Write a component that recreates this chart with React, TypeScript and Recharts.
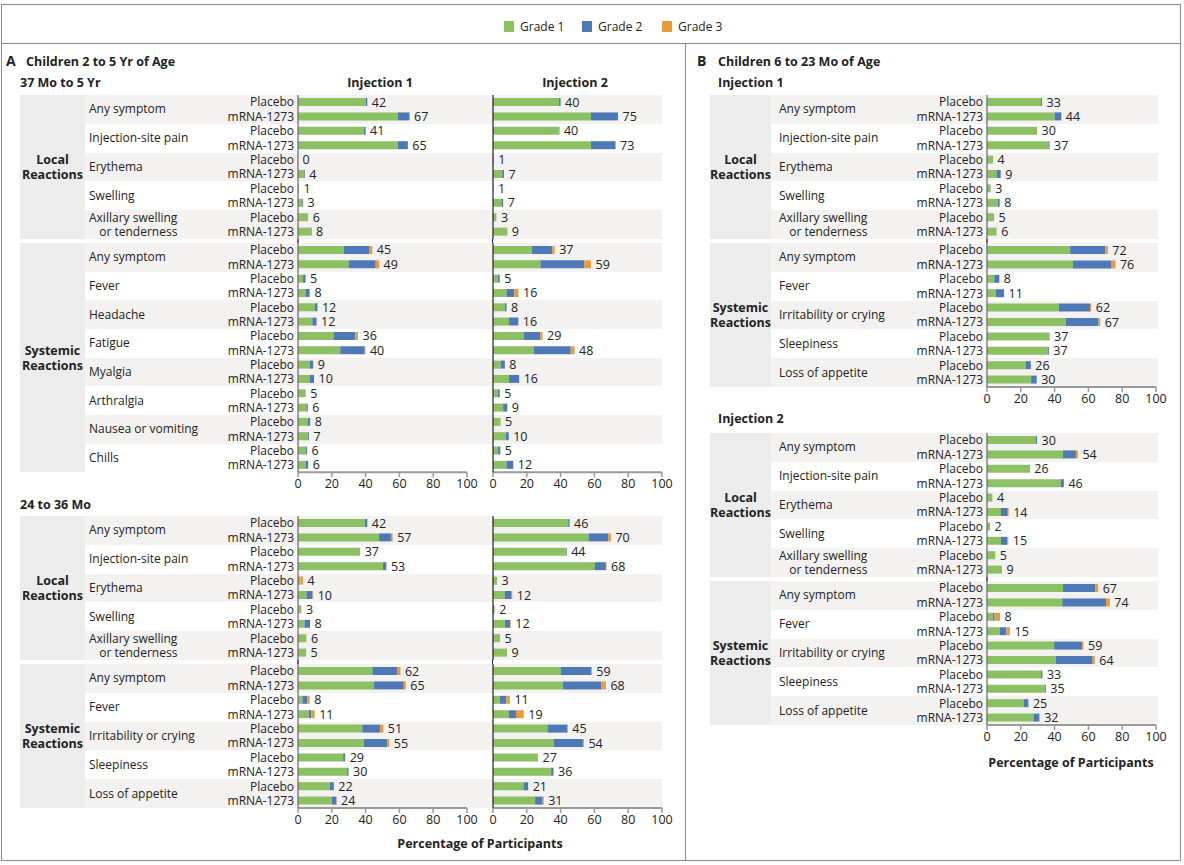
import React from "react";
import { BarChart, Bar, XAxis, YAxis, LabelList } from "recharts";

type G = [number, number, number];

const GREEN = "#8dc063";
const BLUE = "#4f79b6";
const ORANGE = "#e99a3d";
const STRIPE = "#f3f2f0";
const LABEL_COL = "#ececec";
const PLOT_W = 169;
const PAD = 6;

const localSymptoms = ["Any symptom", "Injection-site pain", "Erythema", "Swelling", "Axillary swelling|or tenderness"];
const olderSystemic = ["Any symptom", "Fever", "Headache", "Fatigue", "Myalgia", "Arthralgia", "Nausea or vomiting", "Chills"];
const youngerSystemic = ["Any symptom", "Fever", "Irritability or crying", "Sleepiness", "Loss of appetite"];
const xTicks = [0, 20, 40, 60, 80, 100];
const legendItems = ["Grade 1", "Grade 2", "Grade 3"];

// grades per bar: [grade 1, grade 2, grade 3], placebo then mRNA-1273 for each symptom
// 37 Mo to 5 Yr
const a37LocalDose1: G[] = [[40, 1, 0], [59, 7, 0], [39, 1, 0], [59, 6, 0], [0, 0, 0], [3.5, 0.5, 0], [0.6, 0, 0], [2.5, 0.5, 0], [6, 0, 0], [7.5, 0.5, 0]];
const a37LocalDose1Totals = [42, 67, 41, 65, 0, 4, 1, 3, 6, 8];
const a37LocalDose2: G[] = [[39, 1, 0], [58, 16, 0], [39, 0.3, 0], [58, 14.5, 0], [0.5, 0, 0], [5.5, 1, 0], [0.3, 0, 0], [5, 1, 0], [2, 0, 0], [8.5, 0, 0]];
const a37LocalDose2Totals = [40, 75, 40, 73, 1, 7, 1, 7, 3, 9];
const a37SysDose1: G[] = [[27, 15, 2], [30, 16, 2], [3, 1.5, 0], [4.5, 2, 0.6], [10, 1.5, 0], [8.5, 2.5, 0], [21, 13, 1.5], [25, 14.5, 0.4], [7, 2, 0], [7, 2.5, 0], [4.6, 0, 0], [5, 0.8, 0], [6, 1.2, 0], [6, 0.5, 0], [4.5, 0.8, 0], [4.5, 1.5, 0]];
const a37SysDose1Totals = [45, 49, 5, 8, 12, 12, 36, 40, 9, 10, 5, 6, 8, 7, 6, 6];
const a37SysDose2: G[] = [[23, 12, 1.5], [28, 26, 4], [3, 1, 0], [8, 4.7, 2.4], [7, 1, 0], [9.5, 5.5, 0], [18, 10, 1.3], [24, 22, 2.3], [4.5, 2.5, 0], [9.5, 6, 0], [3, 1, 0], [6, 2.5, 0], [4.5, 0, 0], [7.7, 1.6, 0], [3, 1.3, 0], [8, 4, 0]];
const a37SysDose2Totals = [37, 59, 5, 16, 8, 16, 29, 48, 8, 16, 5, 9, 5, 10, 5, 12];

// 24 to 36 Mo
const a24LocalDose1: G[] = [[39.5, 1.5, 0], [48, 7, 1], [36.8, 0, 0], [50.3, 2, 0], [1.4, 0, 1.6], [5, 3.6, 0.4], [2, 0, 0], [3.8, 3.3, 0], [5, 0, 0], [4.8, 0, 0]];
const a24LocalDose1Totals = [42, 57, 37, 53, 4, 10, 3, 8, 6, 5];
const a24LocalDose2: G[] = [[44.5, 0.8, 0], [56.5, 11.7, 1.6], [43, 0.6, 0], [60.3, 6.5, 0.4], [2.4, 0, 0], [7, 4, 0.4], [1, 0, 0], [7, 3.1, 0.4], [4.2, 0, 0], [8.3, 0, 0]];
const a24LocalDose2Totals = [46, 70, 44, 68, 3, 12, 2, 12, 5, 9];
const a24SysDose1: G[] = [[44, 14.6, 2], [45, 17.6, 1.2], [2.6, 2.9, 1.4], [6.3, 1.6, 2], [38, 10.5, 2], [38.8, 14.1, 1.1], [26.7, 1.2, 0], [29.1, 0.8, 0], [18.8, 2.4, 0], [20, 2.8, 0]];
const a24SysDose1Totals = [62, 65, 8, 11, 51, 55, 29, 30, 22, 24];
const a24SysDose2: G[] = [[40, 18.2, 0.3], [41.3, 22.7, 2.8], [4, 3.9, 2.1], [9.3, 4.3, 4.6], [32.2, 11.8, 0.3], [36, 17.2, 0.6], [26.7, 0, 0], [34.4, 1.4, 0], [18, 2.8, 0], [24.9, 4.5, 0.6]];
const a24SysDose2Totals = [59, 68, 11, 19, 45, 54, 27, 36, 21, 31];

// 6 to 23 Mo
const bLocalDose1: G[] = [[32, 0.6, 0], [40, 4, 0], [29.6, 0, 0], [36.4, 0.6, 0], [3.6, 0, 0], [5.7, 2.4, 0], [2.2, 0, 0], [6.3, 1.2, 0], [4.2, 0, 0], [5.7, 0, 0]];
const bLocalDose1Totals = [33, 44, 30, 37, 4, 9, 3, 8, 5, 6];
const bSysDose1: G[] = [[49.2, 20.8, 1.5], [50.8, 22.9, 2.3], [4.3, 3, 0], [5.3, 4.8, 0], [42.5, 18.5, 0.7], [46.6, 19.4, 1], [36.6, 0.4, 0], [35.8, 0.8, 0], [22.9, 3, 0], [26.1, 3.3, 0]];
const bSysDose1Totals = [72, 76, 8, 11, 62, 67, 37, 37, 26, 30];
const bLocalDose2: G[] = [[29, 0.6, 0], [44.9, 7.7, 1.2], [24.9, 0.4, 0], [43.7, 1.8, 0], [3.2, 0, 0], [8.3, 4, 0.5], [1.8, 0, 0], [8.3, 3.7, 0.6], [4.9, 0, 0], [8.9, 0, 0]];
const bLocalDose2Totals = [30, 54, 26, 46, 4, 14, 2, 15, 5, 9];
const bSysDose2: G[] = [[45, 19, 1.8], [44.5, 25.9, 2.3], [3.4, 1.1, 3.2], [7.5, 4, 2.1], [39.7, 16.6, 0.8], [40.7, 21.8, 1.3], [32, 0.8, 0], [34.2, 0.6, 0], [21.7, 2.8, 0], [27.5, 3.3, 0.4]];
const bSysDose2Totals = [67, 74, 8, 15, 59, 64, 33, 35, 25, 32];

// invisible sliver stacked after grade 3 so the total label has a rectangle to sit on
const LABEL_ANCHOR = 0.001;

function toRows(grades: G[], totals: number[]) {
  return grades.map((g, i) => ({
    id: (i % 2 ? "m" : "p") + Math.floor(i / 2),
    g1: g[0],
    g2: g[1],
    g3: g[2],
    anchor: LABEL_ANCHOR,
    total: totals[i],
  }));
}

const TotalLabel = (props: any) => {
  const { x, y, width, height, value } = props;
  return (
    <text x={Number(x) + Number(width) + 4.5} y={Number(y) + Number(height) / 2} dy="0.36em" fontSize={12.5} fill="#222">
      {value}
    </text>
  );
};

function Block({ grades, totals, zeroX, top, plotH, arms, xAxis, axisColor }: any) {
  const yW = arms ? 84 : 10;
  const xH = xAxis ? 24 : 0;
  const rows = toRows(grades, totals);
  return (
    <div style={{ position: "absolute", left: zeroX - yW, top: top - PAD, zIndex: 2 }}>
      <BarChart
        width={yW + PLOT_W + 18}
        height={plotH + xH + 2 * PAD}
        data={rows}
        layout="vertical"
        margin={{ top: PAD, right: 18, bottom: PAD, left: 0 }}
      >
        <XAxis
          type="number"
          domain={[0, 100]}
          ticks={xTicks}
          interval={0}
          hide={!xAxis}
          height={xH}
          axisLine={{ stroke: "#9a9a9a", strokeWidth: 2 }}
          tickLine={{ stroke: "#9a9a9a", strokeWidth: 1.5 }}
          tickSize={5}
          tick={{ fill: "#222", fontSize: 12.5 }}
        />
        <YAxis
          type="category"
          dataKey="id"
          width={yW}
          interval={0}
          axisLine={{ stroke: axisColor, strokeWidth: 1.2 }}
          tickLine={false}
          tickSize={2}
          tickMargin={2}
          tick={arms ? { fill: "#222", fontSize: 12 } : false}
          tickFormatter={(v: string) => (v[0] === "p" ? "Placebo" : "mRNA-1273")}
        />
        <Bar dataKey="g1" stackId="s" fill={GREEN} barSize={8} isAnimationActive={false} />
        <Bar dataKey="g2" stackId="s" fill={BLUE} barSize={8} isAnimationActive={false} />
        <Bar dataKey="g3" stackId="s" fill={ORANGE} barSize={8} isAnimationActive={false} />
        <Bar dataKey="anchor" stackId="s" fill="transparent" barSize={8} isAnimationActive={false}>
          <LabelList dataKey="total" content={TotalLabel} />
        </Bar>
      </BarChart>
    </div>
  );
}

function Txt({ x, y, children, bold, size = 12, align = "left" }: any) {
  const tx = align === "center" ? "-50%" : align === "right" ? "-100%" : "0";
  return (
    <div
      style={{
        position: "absolute",
        left: x,
        top: y,
        transform: `translate(${tx}, -50%)`,
        whiteSpace: "nowrap",
        fontSize: size,
        fontWeight: bold ? 700 : 400,
        color: "#222",
        lineHeight: 1.2,
        zIndex: 3,
      }}
    >
      {children}
    </div>
  );
}

function Group({ labels, title, top, rowH, colLeft, colRight, stripeRight, textX }: any) {
  const h = labels.length * rowH;
  return (
    <>
      <div style={{ position: "absolute", left: colLeft, top, width: colRight - colLeft, height: h, background: LABEL_COL }} />
      {labels.map((l: string, i: number) => (
        <div
          key={i}
          style={{
            position: "absolute",
            left: colRight,
            top: top + i * rowH,
            width: stripeRight - colRight,
            height: rowH,
            background: i % 2 === 0 ? STRIPE : "#ffffff",
          }}
        />
      ))}
      <div
        style={{
          position: "absolute",
          left: colLeft,
          width: colRight - colLeft,
          top: top + h / 2,
          transform: "translateY(-50%)",
          textAlign: "center",
          fontWeight: 700,
          fontSize: 12.5,
          lineHeight: "15px",
          color: "#222",
          zIndex: 3,
        }}
      >
        {title.split("|").map((t: string, k: number) => (
          <div key={k}>{t}</div>
        ))}
      </div>
      {labels.map((l: string, i: number) => {
        const parts = l.split("|");
        return (
          <div
            key={"t" + i}
            style={{
              position: "absolute",
              left: textX,
              top: top + i * rowH + rowH / 2,
              transform: "translateY(-50%)",
              fontSize: 12,
              lineHeight: "14.4px",
              color: "#222",
              whiteSpace: "nowrap",
              display: "inline-block",
              textAlign: "right",
              zIndex: 3,
            }}
          >
            {parts.map((p, k) => (
              <div key={k}>{p}</div>
            ))}
          </div>
        );
      })}
    </>
  );
}

function Gap({ x, y1, y2, color }: any) {
  return <div style={{ position: "absolute", left: x - 0.6, top: y1, width: 1.2, height: y2 - y1, background: color, zIndex: 2 }} />;
}

export default function App() {
  const A = { colLeft: 20, colRight: 85, stripeRight: 662, textX: 89 };
  const B = { colLeft: 710, colRight: 771, stripeRight: 1158, textX: 779 };
  const colors = [GREEN, BLUE, ORANGE];
  const legendX = [504, 582, 662];
  return (
    <div
      style={{
        position: "absolute",
        left: 0,
        top: 0,
        width: 1184,
        height: 865,
        background: "#fff",
        fontFamily: "'Open Sans', sans-serif",
        overflow: "hidden",
      }}
    >
      {/* frame */}
      <div style={{ position: "absolute", left: 1, top: 4, width: 1180, height: 857, border: "1.5px solid #8a8a8a", boxSizing: "border-box" }} />
      <div style={{ position: "absolute", left: 1, top: 42.5, width: 1180, height: 1.5, background: "#8a8a8a" }} />
      <div style={{ position: "absolute", left: 684.5, top: 43, width: 1.5, height: 818, background: "#8a8a8a" }} />

      {/* legend */}
      {legendItems.map((g, i) => (
        <React.Fragment key={g}>
          <div style={{ position: "absolute", left: legendX[i], top: 21, width: 10, height: 11, background: colors[i] }} />
          <Txt x={legendX[i] + 16} y={26.5}>{g}</Txt>
        </React.Fragment>
      ))}

      {/* Panel A */}
      <Txt x={6} y={61} bold size={14}>A</Txt>
      <Txt x={26} y={61} bold size={12.5}>Children 2 to 5 Yr of Age</Txt>
      <Txt x={20} y={82} bold size={12.5}>37 Mo to 5 Yr</Txt>
      <Txt x={380} y={82} bold size={12.5} align="center">Injection 1</Txt>
      <Txt x={575} y={82} bold size={12.5} align="center">Injection 2</Txt>

      <Group labels={localSymptoms} title="Local|Reactions" top={95} rowH={28.8} {...A} />
      <Group labels={olderSystemic} title="Systemic|Reactions" top={243} rowH={28.65} {...A} />
      <Block grades={a37LocalDose1} totals={a37LocalDose1Totals} zeroX={298} top={95} plotH={144} arms axisColor="#666" />
      <Block grades={a37LocalDose2} totals={a37LocalDose2Totals} zeroX={492.5} top={95} plotH={144} axisColor="#222" />
      <Gap x={298} y1={239} y2={243} color="#666" />
      <Gap x={492.5} y1={239} y2={243} color="#222" />
      <Block grades={a37SysDose1} totals={a37SysDose1Totals} zeroX={298} top={243} plotH={229.2} arms xAxis axisColor="#666" />
      <Block grades={a37SysDose2} totals={a37SysDose2Totals} zeroX={492.5} top={243} plotH={229.2} xAxis axisColor="#222" />

      <Txt x={20} y={504} bold size={12.5}>24 to 36 Mo</Txt>
      <Group labels={localSymptoms} title="Local|Reactions" top={516} rowH={28.8} {...A} />
      <Group labels={youngerSystemic} title="Systemic|Reactions" top={664} rowH={28.8} {...A} />
      <Block grades={a24LocalDose1} totals={a24LocalDose1Totals} zeroX={298} top={516} plotH={144} arms axisColor="#666" />
      <Block grades={a24LocalDose2} totals={a24LocalDose2Totals} zeroX={492.5} top={516} plotH={144} axisColor="#222" />
      <Gap x={298} y1={660} y2={664} color="#666" />
      <Gap x={492.5} y1={660} y2={664} color="#222" />
      <Block grades={a24SysDose1} totals={a24SysDose1Totals} zeroX={298} top={664} plotH={144} arms xAxis axisColor="#666" />
      <Block grades={a24SysDose2} totals={a24SysDose2Totals} zeroX={492.5} top={664} plotH={144} xAxis axisColor="#222" />
      <Txt x={480} y={843} bold size={12.5} align="center">Percentage of Participants</Txt>

      {/* Panel B */}
      <Txt x={697} y={61} bold size={14}>B</Txt>
      <Txt x={718} y={61} bold size={12.5}>Children 6 to 23 Mo of Age</Txt>
      <Txt x={718} y={82} bold size={12.5}>Injection 1</Txt>
      <Group labels={localSymptoms} title="Local|Reactions" top={95} rowH={28.8} {...B} />
      <Group labels={youngerSystemic} title="Systemic|Reactions" top={243} rowH={28.8} {...B} />
      <Block grades={bLocalDose1} totals={bLocalDose1Totals} zeroX={987} top={95} plotH={144} arms axisColor="#666" />
      <Gap x={987} y1={239} y2={243} color="#666" />
      <Block grades={bSysDose1} totals={bSysDose1Totals} zeroX={987} top={243} plotH={144} arms xAxis axisColor="#666" />

      <Txt x={718} y={418} bold size={12.5}>Injection 2</Txt>
      <Group labels={localSymptoms} title="Local|Reactions" top={433} rowH={28.8} {...B} />
      <Group labels={youngerSystemic} title="Systemic|Reactions" top={581} rowH={28.8} {...B} />
      <Block grades={bLocalDose2} totals={bLocalDose2Totals} zeroX={987} top={433} plotH={144} arms axisColor="#666" />
      <Gap x={987} y1={577} y2={581} color="#666" />
      <Block grades={bSysDose2} totals={bSysDose2Totals} zeroX={987} top={581} plotH={144} arms xAxis axisColor="#666" />
      <Txt x={1071} y={762} bold size={12.5} align="center">Percentage of Participants</Txt>
    </div>
  );
}
